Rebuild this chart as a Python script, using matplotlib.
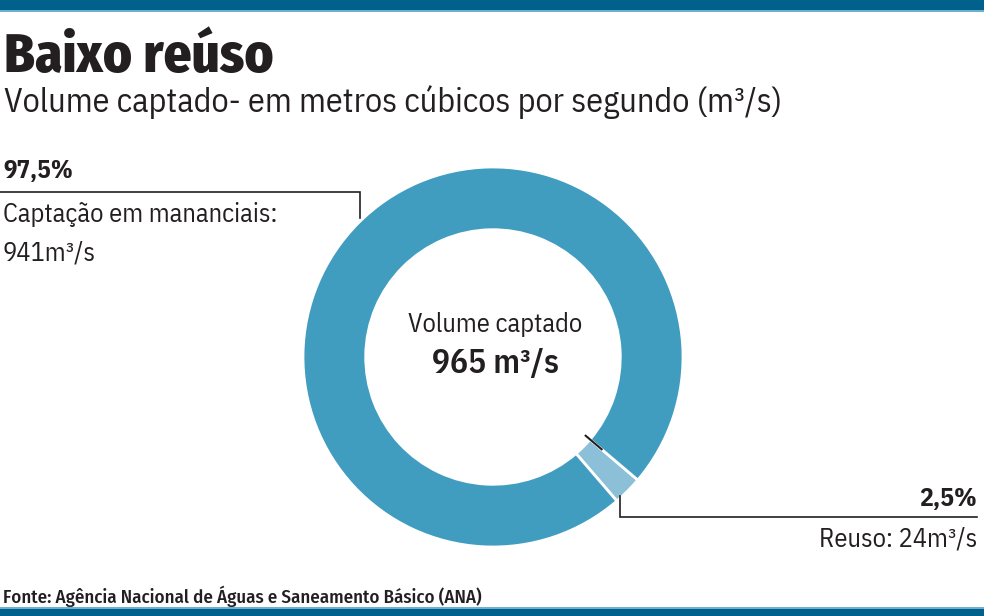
import matplotlib
matplotlib.use("Agg")
import matplotlib.pyplot as plt
import numpy as np
from matplotlib.lines import Line2D
from matplotlib.patches import Rectangle

# ---- data ----
categories = ["Reuso", "Captação em mananciais"]
values = [24, 941]
percent_labels = ["2,5%", "97,5%"]
total_label = "965 m³/s"
colors = ["#8cc0d9", "#409dc0"]

W, H = 984, 616
fig = plt.figure(figsize=(W / 100, H / 100), dpi=100)
fig.patch.set_facecolor("white")

BODY = ["IBM Plex Sans Condensed", "Fira Sans Condensed", "Liberation Sans", "DejaVu Sans"]
TITLE = ["Fira Sans Condensed", "Liberation Sans", "DejaVu Sans"]
FOOT = ["Fira Sans Condensed", "Liberation Sans", "DejaVu Sans"]


def fx(x):
    return x / W


def fy(y):
    return 1 - y / H


def text(x, y, s, size, weight="normal", ha="left", color="#231f20", fam=BODY):
    fig.text(fx(x), fy(y), s, fontsize=size, fontweight=weight, ha=ha,
             va="baseline", color=color, family=fam)


def pline(xs, ys, lw=1.2, color="#231f20"):
    fig.add_artist(Line2D([fx(v) for v in xs], [fy(v) for v in ys],
                          transform=fig.transFigure, lw=lw, color=color,
                          solid_joinstyle="miter"))


# top & bottom bars
fig.add_artist(Rectangle((0, fy(10)), 1, 10 / H, transform=fig.transFigure,
                         color="#00618d", lw=0))
fig.add_artist(Rectangle((0, fy(12)), 1, 2 / H, transform=fig.transFigure,
                         color="#6fb0cf", lw=0))
fig.add_artist(Rectangle((0, 0), 1, 7 / H, transform=fig.transFigure,
                         color="#00618d", lw=0))
fig.add_artist(Rectangle((0, 7 / H), 1, 2 / H, transform=fig.transFigure,
                         color="#6fb0cf", lw=0))

# donut
cx, cy, R = 493, 357, 190
ax = fig.add_axes([fx(cx - R), fy(cy + R), 2 * R / W, 2 * R / H])
ax.pie(values, colors=colors, startangle=-49.3, counterclock=True, radius=1,
       wedgeprops=dict(width=0.33, edgecolor="white", linewidth=2))
ax.set_xlim(-1, 1)
ax.set_ylim(-1, 1)
ax.axis("off")
# small black tick at slice boundary
b = np.deg2rad(-49.3 + 360 * values[0] / sum(values))
ax.plot([0.64 * np.cos(b), 0.75 * np.cos(b)], [0.64 * np.sin(b), 0.75 * np.sin(b)],
        color="#231f20", lw=1.5)

# titles
text(4, 72, "Baixo reúso", 39.5, weight="heavy", fam=TITLE)
text(4, 112, "Volume captado- em metros cúbicos por segundo (m³/s)", 24.5)

# left label
text(3, 178, percent_labels[1], 18, weight="bold")
text(3, 222, "Captação em mananciais:", 19)
text(3, 260, "941m³/s", 19)
pline([0, 360, 360], [192, 192, 218])

# right label
text(977, 506, percent_labels[0], 18.5, weight="bold", ha="right")
text(977, 547, "Reuso: 24m³/s", 19, ha="right")
pline([620, 620, 977], [496, 517, 517])

# center
text(495, 332, "Volume captado", 19, ha="center")
text(496, 373, total_label, 24, weight="semibold", ha="center")

# footer
text(3, 603, "Fonte: Agência Nacional de Águas e Saneamento Básico (ANA)", 13.6,
     weight="medium", fam=FOOT)

fig.savefig("out.png", dpi=100, facecolor="white")
